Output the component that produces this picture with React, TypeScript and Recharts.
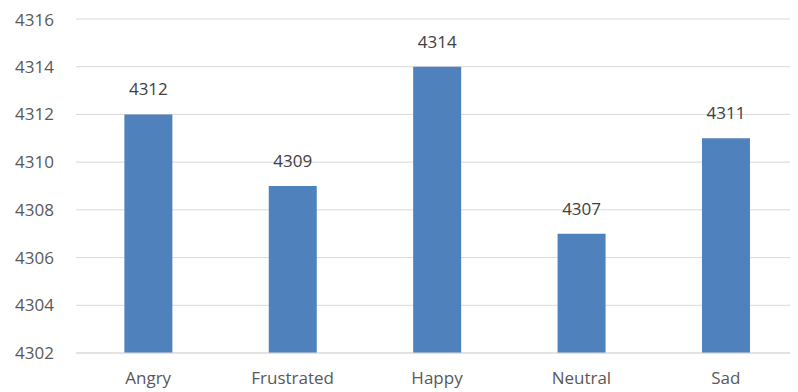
import { BarChart, Bar, XAxis, YAxis, CartesianGrid, LabelList } from 'recharts'

const emotions = ['Angry', 'Frustrated', 'Happy', 'Neutral', 'Sad']
const counts = [4312, 4309, 4314, 4307, 4311]
const yTicks = [4302, 4304, 4306, 4308, 4310, 4312, 4314, 4316]

const data = emotions.map((emotion, i) => ({ emotion, count: counts[i] }))

const FONT = '"Open Sans", sans-serif'

export default function App() {
  return (
    <div style={{ width: 790, height: 384, fontFamily: FONT }}>
      <BarChart
        width={790}
        height={384}
        data={data}
        margin={{ top: 11, right: 0, left: 0, bottom: 0 }}
        barCategoryGap="33.5%"
      >
        <CartesianGrid vertical={false} stroke="#d9d9d9" strokeWidth={1} />
        <XAxis
          dataKey="emotion"
          height={39}
          tickLine={false}
          axisLine={{ stroke: '#d9d9d9' }}
          tick={{ fontSize: 17, fill: '#595959', fontFamily: FONT }}
          tickMargin={13}
        />
        <YAxis
          width={68}
          domain={[4302, 4316]}
          ticks={yTicks}
          allowDataOverflow
          tickLine={false}
          axisLine={false}
          tickSize={0}
          tickMargin={22}
          tick={{ fontSize: 17, fill: '#595959', fontFamily: FONT }}
        />
        <Bar dataKey="count" fill="#4f81bd" isAnimationActive={false}>
          <LabelList
            dataKey="count"
            position="top"
            offset={19}
            style={{ fontSize: 17, fill: '#404040', fontFamily: FONT }}
          />
        </Bar>
      </BarChart>
    </div>
  )
}
